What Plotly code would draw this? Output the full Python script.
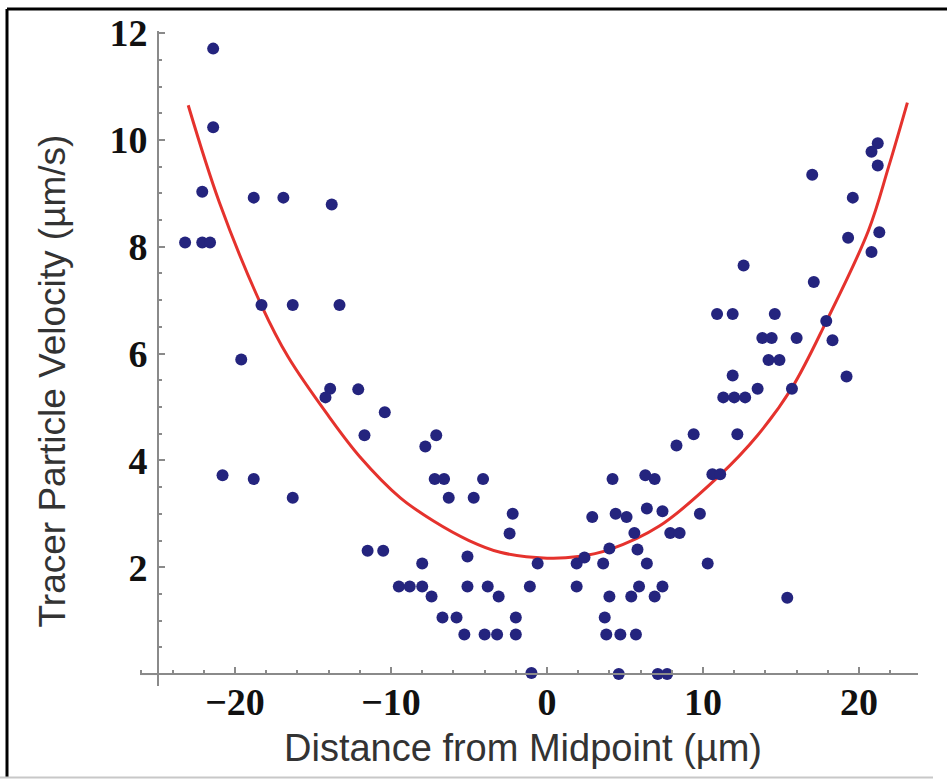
import plotly.graph_objects as go

# Measured tracer particles: distance from midpoint (µm) and velocity (µm/s)
distance_um = [
    -21.4, -21.4, -22.1, -18.8, -16.9, -13.8, -23.2, -22.1, -21.6, -18.3,
    -16.3, -13.3, -19.6, -13.9, -14.2, -12.1, -10.4, -11.7, -20.8, -18.8,
    -16.3, -11.5, -10.5, -9.5, -8.8, -8.0, -7.4, -8.0, -6.7, -5.8,
    -5.3, -7.1, -7.8, -7.2, -6.6, -4.1, -6.3, -4.7, -2.2, -2.4,
    -5.1, -0.6, -5.1, -3.8, -3.1, -1.1, -2.0, -4.0, -3.2, -2.0,
    -1.0, 1.9, 2.4, 3.6, 4.0, 2.9, 4.4, 5.1, 4.2, 6.3,
    6.9, 6.4, 7.4, 5.6, 5.8, 6.4, 7.9, 8.5, 9.8, 10.3,
    1.9, 4.0, 5.4, 5.9, 6.9, 7.4, 3.7, 3.8, 4.7, 5.7,
    4.6, 7.1, 7.7, 8.3, 9.4, 10.6, 11.1, 12.2, 11.3, 12.0,
    12.7, 13.5, 15.7, 11.9, 19.2, 14.2, 14.9, 13.8, 14.4, 16.0,
    18.3, 10.9, 11.9, 14.6, 17.9, 17.1, 12.6, 20.8, 19.3, 21.3,
    19.6, 17.0, 21.2, 20.8, 21.2, 15.4,
]
velocity_ums = [
    11.71, 10.24, 9.03, 8.92, 8.92, 8.79, 8.08, 8.08, 8.08, 6.91,
    6.91, 6.91, 5.89, 5.34, 5.18, 5.33, 4.90, 4.47, 3.72, 3.65,
    3.30, 2.31, 2.31, 1.64, 1.64, 1.64, 1.45, 2.07, 1.06, 1.06,
    0.74, 4.47, 4.26, 3.65, 3.65, 3.65, 3.30, 3.30, 3.00, 2.63,
    2.20, 2.07, 1.64, 1.64, 1.45, 1.64, 1.06, 0.74, 0.74, 0.74,
    0.02, 2.07, 2.18, 2.07, 2.35, 2.94, 3.00, 2.94, 3.65, 3.72,
    3.65, 3.10, 3.05, 2.64, 2.33, 2.07, 2.64, 2.64, 3.00, 2.07,
    1.64, 1.45, 1.45, 1.64, 1.45, 1.64, 1.06, 0.74, 0.74, 0.74,
    0.00, 0.00, 0.00, 4.28, 4.49, 3.74, 3.74, 4.49, 5.18, 5.18,
    5.18, 5.34, 5.34, 5.59, 5.57, 5.88, 5.88, 6.29, 6.29, 6.29,
    6.25, 6.74, 6.74, 6.74, 6.61, 7.34, 7.65, 7.90, 8.17, 8.27,
    8.92, 9.35, 9.94, 9.78, 9.52, 1.43,
]

# Fitted curve
fit_x = [-23.0, -21.0, -18.3, -16.6, -14.0, -12.0, -9.4, -7.3, -5.0, -3.0,
         0.0, 2.0, 4.0, 7.2, 11.0, 13.5, 15.7, 17.9, 20.6, 21.9, 23.1]
fit_y = [10.65, 8.83, 6.9, 5.94, 4.83, 4.07, 3.3, 2.87, 2.5, 2.28,
         2.17, 2.2, 2.33, 2.77, 3.7, 4.47, 5.36, 6.6, 8.3, 9.5, 10.7]

x_tick_vals = [-20, -10, 0, 10, 20]
x_tick_text = ["\u221220", "\u221210", "0", "10", "20"]
y_tick_vals = [2, 4, 6, 8, 10, 12]
y_tick_text = ["2", "4", "6", "8", "10", "12"]
x_minor_vals = [-26, -24, -22, -18, -16, -14, -12, -8, -6, -4, -2, 2, 4, 6, 8, 12, 14, 16, 18, 22]
y_minor_vals = [0, 0.5, 1, 1.5, 2.5, 3, 3.5, 4.5, 5, 5.5, 6.5, 7, 7.5, 8.5, 9, 9.5, 10.5, 11, 11.5]

x_title = "Distance from Midpoint (\u00b5m)"
y_title = "Tracer Particle Velocity (\u00b5m/s)"

W, H = 947, 781
L, R, T, B = 140, 29, 28, 95
X_RANGE = [-26.09, 23.78]
Y_RANGE = [-0.224, 12.04]

plot_w = W - L - R
plot_h = H - T - B


def px_x(p):
    return (p - L) / plot_w


def px_y(p):
    return (H - B - p) / plot_h


fig = go.Figure()
fig.add_trace(go.Scatter(
    x=fit_x, y=fit_y, mode="lines", line=dict(color="#e5322d", width=3, shape="spline"),
    hoverinfo="skip", showlegend=False))
fig.add_trace(go.Scatter(
    x=distance_um, y=velocity_ums, mode="markers",
    marker=dict(color="#24247e", size=12, line=dict(width=0)),
    showlegend=False))

axis_color = "#8a8a8a"
tick_font = dict(family="Liberation Serif", size=38, color="#111111", weight="bold")

y_axis_pos = px_x(158)
x_axis_pos = (0 - Y_RANGE[0]) / (Y_RANGE[1] - Y_RANGE[0])

fig.update_layout(
    width=W, height=H,
    margin=dict(l=L, r=R, t=T, b=B, pad=0),
    paper_bgcolor="white", plot_bgcolor="white",
    xaxis=dict(
        range=X_RANGE, anchor="free", position=x_axis_pos,
        showgrid=False, zeroline=False, showline=True, linecolor=axis_color, linewidth=2,
        tickmode="array", tickvals=x_tick_vals, ticktext=x_tick_text,
        ticks="inside", ticklen=6, tickwidth=2, tickcolor=axis_color,
        tickfont=tick_font, ticklabelstandoff=-6,
        minor=dict(tickmode="array", tickvals=x_minor_vals, ticks="inside",
                   ticklen=3, tickwidth=2, tickcolor=axis_color, showgrid=False),
    ),
    yaxis=dict(
        range=Y_RANGE, anchor="free", position=y_axis_pos,
        showgrid=False, zeroline=False, showline=True, linecolor=axis_color, linewidth=2,
        tickmode="array", tickvals=y_tick_vals, ticktext=y_tick_text,
        ticks="inside", ticklen=6, tickwidth=2, tickcolor=axis_color,
        tickfont=tick_font, ticklabelstandoff=2,
        minor=dict(tickmode="array", tickvals=y_minor_vals, ticks="inside",
                   ticklen=3, tickwidth=2, tickcolor=axis_color, showgrid=False),
    ),
    annotations=[
        dict(text=x_title, xref="paper", yref="paper",
             x=px_x(523), y=px_y(748),
             showarrow=False, xanchor="center", yanchor="middle",
             font=dict(family="Liberation Sans", size=38, color="#333333")),
        dict(text=y_title, xref="paper", yref="paper",
             x=px_x(52), y=px_y(380), textangle=-90,
             showarrow=False, xanchor="center", yanchor="middle",
             font=dict(family="Liberation Sans", size=37, color="#333333")),
    ],
    shapes=[
        dict(type="line", xref="paper", yref="paper",
             x0=px_x(7), x1=px_x(7), y0=px_y(6), y1=px_y(778),
             line=dict(color="black", width=3)),
        dict(type="line", xref="paper", yref="paper",
             x0=px_x(7), x1=px_x(947), y0=px_y(6), y1=px_y(6),
             line=dict(color="black", width=3)),
        dict(type="line", xref="paper", yref="paper",
             x0=px_x(0), x1=px_x(933), y0=px_y(778), y1=px_y(778),
             line=dict(color="#c8c8c8", width=2)),
        dict(type="line", xref="paper", yref="y",
             x0=0, x1=y_axis_pos, y0=0, y1=0,
             line=dict(color=axis_color, width=2)),
    ],
)

fig.write_html(
    "out.html",
    config={"displayModeBar": False},
    post_script="document.body.style.margin='0';document.body.style.overflow='hidden';",
)
